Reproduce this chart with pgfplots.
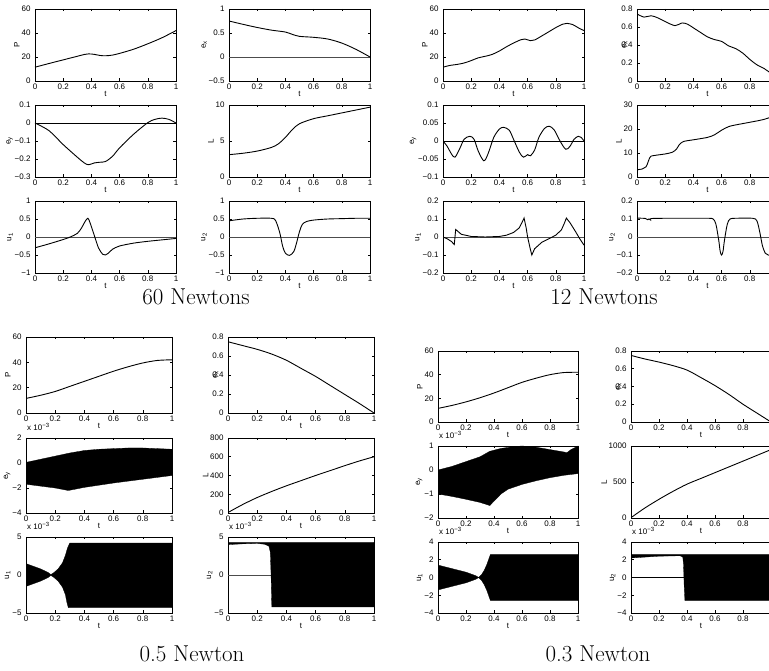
\documentclass[border=0pt]{standalone}
\usepackage{pgfplots}
\pgfplotsset{compat=1.18}
\usepackage{fontspec}
\newfontfamily\arialf{Liberation Sans}
\newcommand\tkf{\arialf\fontsize{8}{9}\selectfont}
\newcommand\ttl{\fontsize{23}{25}\selectfont}
\pgfplotsset{
 mat/.style={
  anchor=north west, scale only axis,
  xmin=0, xmax=1, xtick={0,0.2,0.4,0.6,0.8,1}, xticklabels={0,0.2,0.4,0.6,0.8,1},
  tick align=inside, major tick length=2.5pt, tick style={black,line width=0.5pt},
  axis line style={black,line width=0.9pt},
  xtick pos=both, ytick pos=both,
  ticklabel style={font=\tkf},
  /pgf/number format/assume math mode=true,
  xlabel={t}, xlabel style={font=\tkf, yshift=5pt},
  ylabel style={font=\tkf, yshift=-5pt},
  scaled ticks=false, clip mode=individual,
  cycle list={{black,mark=none}},
  every axis plot/.append style={black, line width=0.9pt, mark=none},
  xticklabel style={yshift=1pt}, yticklabel style={xshift=-1pt},
 },
 w1/.style={width=141pt,height=72pt},
 w3/.style={width=146pt},
 w4/.style={width=140pt},
 exl/.style={ylabel style={yshift=-8pt}},
 mult/.style={title={x 10\textsuperscript{−3}}, title style={font=\tkf, at={(0,1)}, anchor=south west, inner sep=1pt}},
 zl/.style={black!70, line width=0.9pt},
 band/.style={fill=black, draw=black, line width=0.3pt},
}
\begin{document}
\begin{tikzpicture}
\useasboundingbox (0,0) rectangle (769pt,670pt);
\clip (0,0) rectangle (769pt,670pt);
% ================= 60 Newtons =================
\begin{axis}[mat,w1,at={(35pt,661pt)},ymin=0,ymax=60,ytick={0,20,40,60},yticklabels={0,20,40,60},ylabel={P}]
\addplot[smooth] coordinates {(0,11.5)(0.1,14.6)(0.2,17.6)(0.3,20.6)(0.35,22.1)(0.38,22.6)(0.42,22.2)(0.46,21.3)(0.5,21)(0.55,21.6)(0.6,23)(0.7,26.5)(0.8,31)(0.9,36)(1,42)};
\end{axis}
\begin{axis}[mat,w1,at={(229pt,661pt)},ymin=-0.5,ymax=1,ytick={-0.5,0,0.5,1},yticklabels={−0.5,0,0.5,1},ylabel={e\textsubscript{x}}]
\addplot[zl] coordinates {(0,0)(1,0)};
\addplot[smooth] coordinates {(0,0.75)(0.1,0.68)(0.2,0.615)(0.3,0.56)(0.4,0.52)(0.45,0.47)(0.5,0.43)(0.6,0.41)(0.7,0.375)(0.8,0.29)(0.9,0.16)(1,0)};
\end{axis}
\begin{axis}[mat,w1,at={(35pt,565pt)},ymin=-0.3,ymax=0.1,ytick={-0.3,-0.2,-0.1,0,0.1},yticklabels={−0.3,−0.2,−0.1,0,0.1},ylabel={e\textsubscript{y}}]
\addplot[zl,black] coordinates {(0,0)(1,0)};
\addplot[smooth] coordinates {(0,0)(0.1,-0.043)(0.2,-0.12)(0.3,-0.19)(0.35,-0.222)(0.38,-0.232)(0.42,-0.222)(0.46,-0.218)(0.5,-0.214)(0.55,-0.185)(0.6,-0.138)(0.7,-0.062)(0.8,0.002)(0.85,0.02)(0.9,0.027)(0.95,0.02)(1,0)};
\end{axis}
\begin{axis}[mat,w1,at={(229pt,565pt)},ymin=0,ymax=10,ytick={0,5,10},yticklabels={0,5,10},ylabel={L}]
\addplot[smooth] coordinates {(0,3.1)(0.1,3.3)(0.2,3.6)(0.3,4.1)(0.35,4.6)(0.4,5.5)(0.45,6.6)(0.5,7.4)(0.6,8.1)(0.7,8.5)(0.8,8.9)(0.9,9.3)(1,9.7)};
\end{axis}
\begin{axis}[mat,w1,at={(35pt,469pt)},ymin=-1,ymax=1,ytick={-1,-0.5,0,0.5,1},yticklabels={−1,−0.5,0,0.5,1},ylabel={u\textsubscript{1}}]
\addplot[zl] coordinates {(0,0)(1,0)};
\addplot[smooth] coordinates {(0,-0.3)(0.1,-0.19)(0.2,-0.07)(0.25,0.0)(0.3,0.1)(0.33,0.25)(0.355,0.43)(0.375,0.52)(0.39,0.4)(0.42,0.05)(0.45,-0.3)(0.48,-0.48)(0.5,-0.5)(0.52,-0.45)(0.55,-0.34)(0.6,-0.25)(0.7,-0.17)(0.8,-0.12)(0.9,-0.08)(1,-0.04)};
\end{axis}
\begin{axis}[mat,w1,at={(229pt,469pt)},ymin=-1,ymax=1,ytick={-1,-0.5,0,0.5,1},yticklabels={−1,−0.5,0,0.5,1},ylabel={u\textsubscript{2}}]
\addplot[zl] coordinates {(0,0)(1,0)};
\addplot[smooth] coordinates {(0,0.45)(0.1,0.5)(0.2,0.52)(0.3,0.52)(0.33,0.46)(0.36,0.12)(0.38,-0.25)(0.4,-0.45)(0.43,-0.51)(0.46,-0.4)(0.48,-0.15)(0.5,0.15)(0.52,0.35)(0.55,0.43)(0.6,0.47)(0.7,0.5)(0.8,0.51)(0.9,0.52)(1,0.52)};
\end{axis}
% ================= 12 Newtons =================
\begin{axis}[mat,w1,at={(443pt,661pt)},ymin=0,ymax=60,ytick={0,20,40,60},yticklabels={0,20,40,60},ylabel={P}]
\addplot[smooth] coordinates {(0,11.5)(0.05,13)(0.1,13.8)(0.15,15)(0.2,17)(0.25,19.3)(0.3,20.6)(0.35,22.2)(0.4,25)(0.45,28.5)(0.5,31.6)(0.55,34.3)(0.58,35)(0.62,33.6)(0.65,34.2)(0.7,37.5)(0.75,41)(0.8,44.5)(0.85,47.4)(0.88,48)(0.92,47)(0.96,44.3)(1,42)};
\end{axis}
\begin{axis}[mat,w1,exl,at={(637pt,661pt)},ymin=0,ymax=0.8,ytick={0,0.2,0.4,0.6,0.8},yticklabels={0,0.2,0.4,0.6,0.8},ylabel={e\textsubscript{x}}]
\addplot[smooth] coordinates {(0,0.745)(0.05,0.71)(0.1,0.725)(0.15,0.7)(0.2,0.66)(0.27,0.615)(0.32,0.645)(0.36,0.63)(0.4,0.59)(0.45,0.54)(0.5,0.49)(0.55,0.46)(0.6,0.44)(0.65,0.39)(0.7,0.36)(0.75,0.31)(0.8,0.24)(0.85,0.18)(0.9,0.14)(0.95,0.085)(1,0.02)};
\end{axis}
\begin{axis}[mat,w1,at={(443pt,565pt)},ymin=-0.1,ymax=0.1,ytick={-0.1,-0.05,0,0.05,0.1},yticklabels={−0.1,−0.05,0,0.05,0.1},ylabel={e\textsubscript{y}}]
\addplot[zl,black] coordinates {(0,0)(1,0)};
\addplot[smooth] coordinates {(0,0)(0.03,-0.015)(0.06,-0.036)(0.085,-0.045)(0.12,-0.02)(0.15,0.005)(0.19,0.013)(0.22,0.005)(0.25,-0.028)(0.29,-0.055)(0.32,-0.035)(0.36,0.01)(0.4,0.033)(0.43,0.038)(0.47,0.03)(0.5,0.005)(0.54,-0.03)(0.57,-0.045)(0.6,-0.038)(0.62,-0.041)(0.65,-0.025)(0.68,0.01)(0.72,0.035)(0.755,0.041)(0.79,0.03)(0.83,0.0)(0.87,-0.023)(0.9,-0.015)(0.93,0.005)(0.96,0.013)(0.98,0.01)(1,0)};
\end{axis}
\begin{axis}[mat,w1,at={(637pt,565pt)},ymin=0,ymax=30,ytick={0,10,20,30},yticklabels={0,10,20,30},ylabel={L}]
\addplot[smooth] coordinates {(0,3)(0.04,3.4)(0.065,4.3)(0.08,6.5)(0.09,8)(0.1,8.7)(0.15,9.2)(0.2,9.6)(0.25,10.3)(0.28,11.6)(0.3,13.5)(0.33,14.8)(0.4,15.5)(0.5,16.5)(0.55,17.6)(0.6,19.5)(0.65,21)(0.7,21.7)(0.8,22.8)(0.9,24)(1,26)};
\end{axis}
\begin{axis}[mat,w1,at={(443pt,469pt)},ymin=-0.2,ymax=0.2,ytick={-0.2,-0.1,0,0.1,0.2},yticklabels={−0.2,−0.1,0,0.1,0.2},ylabel={u\textsubscript{1}}]
\addplot[zl] coordinates {(0,0)(1,0)};
\addplot[black] coordinates {(0,0)(0.03,-0.01)(0.06,-0.025)(0.08,-0.042)(0.085,0.0)(0.09,0.042)(0.1,0.035)(0.13,0.015)(0.2,0.003)(0.3,0.0)(0.4,0.003)(0.45,0.01)(0.5,0.025)(0.54,0.05)(0.56,0.08)(0.575,0.105)(0.59,0.05)(0.6,0.0)(0.62,-0.07)(0.63,-0.1)(0.65,-0.065)(0.7,-0.03)(0.75,-0.01)(0.8,0.01)(0.84,0.04)(0.86,0.075)(0.875,0.105)(0.9,0.08)(0.94,0.03)(0.97,-0.01)(1,-0.045)};
\end{axis}
\begin{axis}[mat,w1,at={(637pt,469pt)},ymin=-0.2,ymax=0.2,ytick={-0.2,-0.1,0,0.1,0.2},yticklabels={−0.2,−0.1,0,0.1,0.2},ylabel={u\textsubscript{2}}]
\addplot[zl] coordinates {(0,0)(1,0)};
\addplot[smooth] coordinates {(0,0.105)(0.06,0.103)(0.075,0.096)(0.085,0.1)(0.095,0.095)(0.11,0.103)(0.3,0.104)(0.5,0.104)(0.54,0.1)(0.56,0.07)(0.58,-0.02)(0.59,-0.08)(0.6,-0.1)(0.61,-0.08)(0.62,-0.02)(0.64,0.07)(0.66,0.1)(0.7,0.104)(0.82,0.104)(0.85,0.09)(0.87,0.03)(0.89,-0.05)(0.91,-0.09)(0.93,-0.1)(0.96,-0.105)(1,-0.105)};
\end{axis}
% ================= 0.5 Newton =================
\begin{axis}[mat,w3,height=76pt,at={(26pt,333pt)},ymin=0,ymax=60,ytick={0,20,40,60},yticklabels={0,20,40,60},ylabel={P}]
\addplot[smooth] coordinates {(0,11.5)(0.1,14)(0.2,17)(0.3,21)(0.4,25)(0.5,29)(0.6,33)(0.7,36.5)(0.8,39.5)(0.9,41.5)(1,42)};
\end{axis}
\begin{axis}[mat,w3,exl,height=76pt,at={(228pt,333pt)},ymin=0,ymax=0.8,ytick={0,0.2,0.4,0.6,0.8},yticklabels={0,0.2,0.4,0.6,0.8},ylabel={e\textsubscript{x}}]
\addplot[smooth] coordinates {(0,0.75)(0.1,0.71)(0.2,0.67)(0.3,0.62)(0.4,0.555)(0.5,0.47)(0.6,0.385)(0.7,0.29)(0.8,0.195)(0.9,0.1)(1,0)};
\end{axis}
\begin{axis}[mat,w3,height=75pt,at={(26pt,232pt)},mult,ymin=-4,ymax=2,ytick={-4,-2,0,2},yticklabels={−4,−2,0,2},ylabel={e\textsubscript{y}}]
\addplot[band] coordinates {(0,0.05)(0.1,0.3)(0.2,0.55)(0.3,0.8)(0.4,1.0)(0.5,1.1)(0.6,1.15)(0.7,1.2)(0.8,1.2)(0.9,1.15)(1,1.1)(1,-1.0)(0.8,-1.3)(0.6,-1.6)(0.4,-1.95)(0.29,-2.2)(0.2,-2.0)(0.1,-1.85)(0,-1.7)} \closedcycle;
\end{axis}
\begin{axis}[mat,w3,height=75pt,at={(228pt,232pt)},ymin=0,ymax=800,ytick={0,200,400,600,800},yticklabels={0,200,400,600,800},ylabel={L}]
\addplot[smooth] coordinates {(0,5)(0.1,90)(0.2,165)(0.3,230)(0.4,290)(0.5,345)(0.6,400)(0.7,452)(0.8,505)(0.9,555)(1,600)};
\end{axis}
\begin{axis}[mat,w3,height=76pt,at={(26pt,133pt)},mult,ymin=-5,ymax=5,ytick={-5,0,5},yticklabels={−5,0,5},ylabel={u\textsubscript{1}}]
\addplot[band] coordinates {(0,1.5)(0.05,1.15)(0.1,0.8)(0.15,0.35)(0.17,0.05)(0.19,0.3)(0.22,0.8)(0.25,1.6)(0.27,2.6)(0.285,3.6)(0.3,4.2)(1,4.2)(1,-4.3)(0.29,-4.3)(0.28,-3.6)(0.27,-2.6)(0.25,-1.6)(0.22,-0.8)(0.19,-0.3)(0.17,-0.05)(0.15,-0.35)(0.1,-0.8)(0.05,-1.15)(0,-1.5)} \closedcycle;
\end{axis}
\begin{axis}[mat,w3,height=76pt,at={(228pt,133pt)},mult,ymin=-5,ymax=5,ytick={-5,0,5},yticklabels={−5,0,5},ylabel={u\textsubscript{2}}]
\addplot[zl] coordinates {(0,0)(1,0)};
\addplot[band] coordinates {(0,4.3)(1,4.3)(1,-4.2)(0.3,-4.2)(0.295,0)(0.29,3.0)(0.28,3.8)(0.25,4.05)(0.2,4.15)(0.1,4.1)(0,4.0)} \closedcycle;
\end{axis}
% ================= 0.3 Newton =================
\begin{axis}[mat,w4,height=71pt,at={(438pt,319pt)},ymin=0,ymax=60,ytick={0,20,40,60},yticklabels={0,20,40,60},ylabel={P}]
\addplot[smooth] coordinates {(0,11.5)(0.1,14)(0.2,17)(0.3,20.5)(0.4,24.5)(0.5,29)(0.6,33.5)(0.7,37)(0.8,40)(0.9,41.8)(1,42)};
\end{axis}
\begin{axis}[mat,w4,exl,height=71pt,at={(631pt,319pt)},ymin=0,ymax=0.8,ytick={0,0.2,0.4,0.6,0.8},yticklabels={0,0.2,0.4,0.6,0.8},ylabel={e\textsubscript{x}}]
\addplot[smooth] coordinates {(0,0.75)(0.1,0.71)(0.2,0.675)(0.3,0.635)(0.4,0.585)(0.5,0.5)(0.6,0.41)(0.7,0.31)(0.8,0.2)(0.9,0.1)(1,0)};
\end{axis}
\begin{axis}[mat,w4,height=72pt,at={(438pt,224pt)},mult,ymin=-2,ymax=1,ytick={-2,-1,0,1},yticklabels={−2,−1,0,1},ylabel={e\textsubscript{y}}]
\addplot[band] coordinates {(0,0)(0.1,0.15)(0.2,0.35)(0.3,0.55)(0.37,0.78)(0.45,0.9)(0.55,0.98)(0.6,1.0)(0.7,0.95)(0.8,0.85)(0.9,0.75)(0.92,0.72)(0.95,0.85)(1,1.0)(1,-0.15)(0.9,-0.22)(0.8,-0.32)(0.7,-0.45)(0.6,-0.6)(0.5,-0.8)(0.45,-1.0)(0.4,-1.3)(0.37,-1.48)(0.3,-1.35)(0.2,-1.22)(0.1,-1.1)(0,-1.0)} \closedcycle;
\end{axis}
\begin{axis}[mat,w4,height=72pt,at={(631pt,224pt)},ymin=0,ymax=1000,ytick={0,500,1000},yticklabels={0,500,1000},ylabel={L}]
\addplot[smooth] coordinates {(0,5)(0.1,140)(0.2,260)(0.3,370)(0.4,470)(0.5,550)(0.6,630)(0.7,710)(0.8,790)(0.9,870)(1,950)};
\end{axis}
\begin{axis}[mat,w4,height=71pt,at={(438pt,128pt)},mult,ymin=-4,ymax=4,ytick={-4,-2,0,2,4},yticklabels={−4,−2,0,2,4},ylabel={u\textsubscript{1}}]
\addplot[band] coordinates {(0,1.4)(0.1,1.0)(0.2,0.6)(0.27,0.2)(0.29,0.0)(0.31,0.3)(0.33,0.8)(0.35,1.5)(0.365,2.2)(0.375,2.6)(1,2.6)(1,-2.6)(0.375,-2.6)(0.365,-2.2)(0.35,-1.5)(0.33,-0.8)(0.31,-0.3)(0.29,0.0)(0.27,-0.2)(0.2,-0.6)(0.1,-1.0)(0,-1.4)} \closedcycle;
\end{axis}
\begin{axis}[mat,w4,height=71pt,at={(631pt,128pt)},mult,ymin=-4,ymax=4,ytick={-4,-2,0,2,4},yticklabels={−4,−2,0,2,4},ylabel={u\textsubscript{2}}]
\addplot[zl,black] coordinates {(0,0)(1,0)};
\addplot[band] coordinates {(0,2.6)(1,2.6)(1,-2.6)(0.385,-2.6)(0.38,-1)(0.375,1.5)(0.37,2.3)(0.35,2.45)(0.2,2.4)(0.1,2.3)(0,2.2)} \closedcycle;
\end{axis}
% ================= captions =================
\node[font=\ttl] at (196pt,373pt) {60 Newtons};
\node[font=\ttl] at (604pt,373pt) {12 Newtons};
\node[font=\ttl] at (192pt,16pt) {0.5 Newton};
\node[font=\ttl] at (598pt,16pt) {0.3 Newton};
\end{tikzpicture}
\end{document}
